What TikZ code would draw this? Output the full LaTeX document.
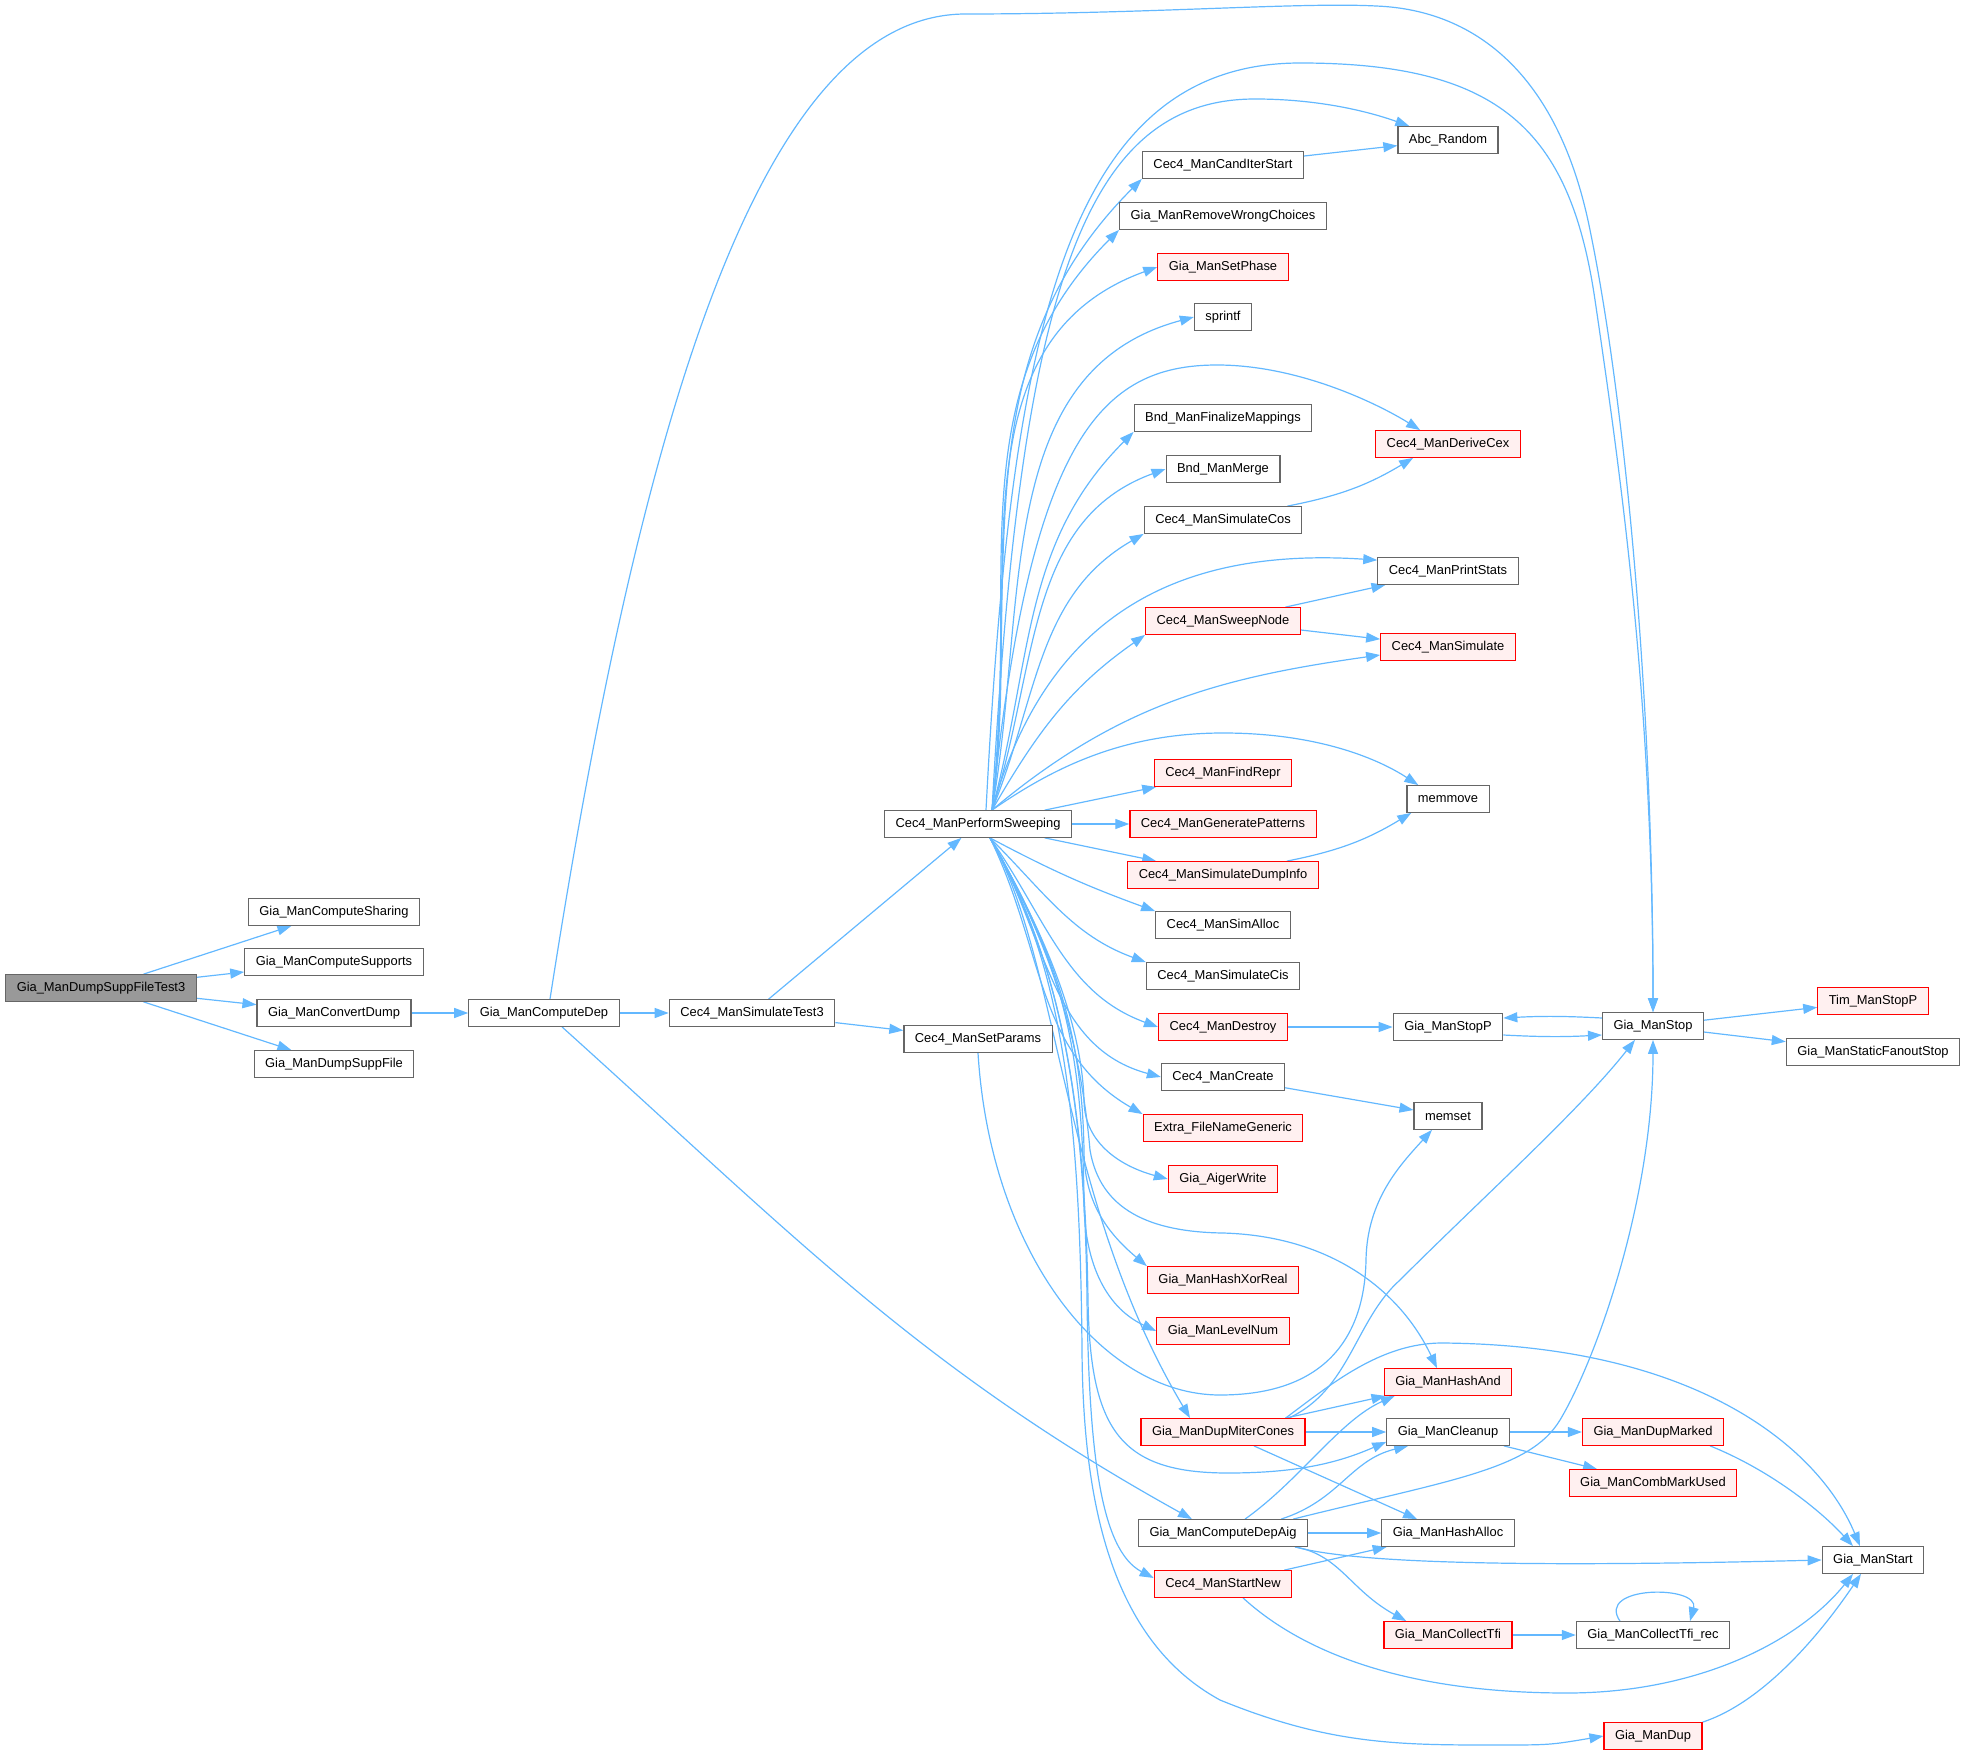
\documentclass[tikz,border=0pt]{standalone}
\usepackage{fontspec}
\setmainfont{Liberation Sans}
\usepackage{tikz}
\usetikzlibrary{arrows.meta, calc}
\pgfdeclarelayer{background}
\pgfsetlayers{background,main}

\begin{document}
\begin{tikzpicture}[x=0.5pt, y=0.5pt, >={Triangle[length=7pt, width=5pt]},
    every node/.style={font=\fontsize{6.45}{7.7}\selectfont, inner xsep=5.5pt, inner ysep=0pt,
      minimum height=13.3pt, line width=0.6pt},
    fn/.style={draw=nodegray, fill=white},
    fnred/.style={draw=red, fill=redbg},
    fnroot/.style={draw=nodegray, fill=rootgray},
    call/.style={->, draw=callblue, line width=0.6pt}]
      \definecolor{callblue}{HTML}{63B8FF} \definecolor{nodegray}{HTML}{666666}
      \definecolor{redbg}{HTML}{FFF0F0} \definecolor{rootgray}{HTML}{999999}
      \useasboundingbox (0,0) rectangle (1966,-1755);

      % caller chain on the left
      \node[fnroot] (root) at (101,-988) {Gia\_ManDumpSuppFileTest3};
      \foreach \n/\y/\t in {sharing/912/Gia\_ManComputeSharing, supports/962/Gia\_ManComputeSupports,
          convert/1013/Gia\_ManConvertDump, dumpFile/1064/Gia\_ManDumpSuppFile}
        \node[fn] (\n) at (334,-\y) {\t};
      \node[fn] (compDep) at (544,-1013) {Gia\_ManComputeDep};
      \node[fn] (simTest) at (752,-1013) {Cec4\_ManSimulateTest3};
      \node[fn] (setParams) at (978,-1039) {Cec4\_ManSetParams};
      \node[fn] (ps) at (978,-824) {Cec4\_ManPerformSweeping};

      % callees of the sweeper
      \foreach \n/\y/\s/\t in {cand/165/fn/Cec4\_ManCandIterStart, removeWC/216/fn/Gia\_ManRemoveWrongChoices,
          setPhase/267/fnred/Gia\_ManSetPhase, sprintf/317/fn/sprintf,
          finalize/418/fn/Bnd\_ManFinalizeMappings, merge/469/fn/Bnd\_ManMerge,
          simCos/520/fn/Cec4\_ManSimulateCos, sweepNode/621/fnred/Cec4\_ManSweepNode,
          findRepr/773/fnred/Cec4\_ManFindRepr, genPat/824/fnred/Cec4\_ManGeneratePatterns,
          dumpInfo/875/fnred/Cec4\_ManSimulateDumpInfo, simAlloc/925/fn/Cec4\_ManSimAlloc,
          simCis/976/fn/Cec4\_ManSimulateCis, destroy/1027/fnred/Cec4\_ManDestroy,
          create/1077/fn/Cec4\_ManCreate, extra/1128/fnred/Extra\_FileNameGeneric,
          aiger/1179/fnred/Gia\_AigerWrite, hashXor/1280/fnred/Gia\_ManHashXorReal,
          levelNum/1331/fnred/Gia\_ManLevelNum, dupMiter/1432/fnred/Gia\_ManDupMiterCones,
          depAig/1533/fn/Gia\_ManComputeDepAig, startNew/1584/fnred/Cec4\_ManStartNew}
        \node[\s] (\n) at (1223,-\y) {\t};
      \foreach \n/\y/\s/\t in {abc/140/fn/Abc\_Random, cex/444/fnred/Cec4\_ManDeriveCex,
          stats/571/fn/Cec4\_ManPrintStats, simulate/647/fnred/Cec4\_ManSimulate,
          memmove/799/fn/memmove, stopP/1027/fn/Gia\_ManStopP, memset/1116/fn/memset,
          hashAnd/1382/fnred/Gia\_ManHashAnd, cleanup/1432/fn/Gia\_ManCleanup,
          hashAlloc/1533/fn/Gia\_ManHashAlloc, tfi/1635/fnred/Gia\_ManCollectTfi}
        \node[\s] (\n) at (1448,-\y) {\t};
      \foreach \n/\y/\s/\t in {stop/1026/fn/Gia\_ManStop, dupMarked/1432/fnred/Gia\_ManDupMarked,
          combMark/1483/fnred/Gia\_ManCombMarkUsed, tfiRec/1635/fn/Gia\_ManCollectTfi\_rec,
          dup/1736/fnred/Gia\_ManDup}
        \node[\s] (\n) at (1653,-\y) {\t};
      \node[fnred] (timStopP) at (1873,-1001) {Tim\_ManStopP};
      \node[fn] (fanout) at (1873,-1052) {Gia\_ManStaticFanoutStop};
      \node[fn] (start) at (1873,-1560) {Gia\_ManStart};

      \begin{pgfonlayer}{background}
      % straight calls
      \foreach \a/\b in {root/sharing, root/supports, root/convert, root/dumpFile, convert/compDep,
          compDep/simTest, simTest/ps, simTest/setParams, ps/findRepr, ps/genPat, ps/dumpInfo,
          cand/abc, sweepNode/stats, sweepNode/simulate, destroy/stopP, create/memset,
          stop/timStopP, stop/fanout, dupMiter/hashAnd, dupMiter/cleanup, dupMiter/hashAlloc,
          depAig/hashAlloc, startNew/hashAlloc, cleanup/dupMarked, cleanup/combMark, tfi/tfiRec}
        \draw[call] (\a) -- (\b);

      % fan out of the sweeper
      \coordinate (pstop) at ($(ps.north)+(14,0)$);
      \coordinate (psbot) at ($(ps.south)+(12,0)$);
      \foreach \t/\o/\i/\p in {cand/84/225/south west, removeWC/83/225/south west, setPhase/82/200/west,
          sprintf/80/195/west, finalize/75/225/south west, merge/72/200/west,
          simCos/68/210/south west, sweepNode/60/215/south west}
        \draw[call] (pstop) to[out=\o, in=\i] (\t.\p);
      \foreach \t/\o/\i/\p in {simAlloc/-28/160/north west, simCis/-45/160/north west,
          destroy/-55/160/west, create/-60/165/west, extra/-64/150/north west}
        \draw[call] (psbot) to[out=\o, in=\i] (\t.\p);
      \foreach \t/\y/\i/\p in {aiger/1100/165/west, hashXor/1150/140/north west, levelNum/1200/155/west}
        \draw[call] (psbot) .. controls (1060,-960) and (1082,-1040) .. (1084,-\y) to[out=-90, in=\i] (\t.\p);
      \draw[call] (psbot) .. controls (1060,-960) and (1060,-1200) .. ($(dupMiter.north)+(-33,0)$);
      \draw[call] (psbot) .. controls (1060,-960) and (1085,-1100) .. (1087,-1300)
        .. controls (1089,-1450) and (1100,-1550) .. ($(startNew.west)+(0,6)$);
      \draw[call] (psbot) .. controls (1060,-960) and (1082,-1060) .. (1090,-1150)
        .. controls (1100,-1210) and (1150,-1232) .. (1223,-1233)
        .. controls (1330,-1236) and (1400,-1290) .. ($(hashAnd.north)+(-11,0)$);
      \draw[call] (psbot) .. controls (1060,-960) and (1085,-1100) .. (1088,-1300)
        .. controls (1090,-1430) and (1120,-1473) .. (1228,-1473)
        .. controls (1300,-1473) and (1340,-1462) .. ($(cleanup.south west)+(0,4)$);
      \draw[call] (psbot) .. controls (1060,-960) and (1080,-1100) .. (1082,-1350)
        .. controls (1083,-1500) and (1110,-1640) .. (1220,-1700)
        .. controls (1330,-1745) and (1400,-1745) .. (1496,-1745) .. controls (1550,-1745) .. (dup.west);
      \draw[call] (pstop) .. controls (1020,-300) and (1080,-99) .. (1255,-99)
        .. controls (1320,-99) and (1370,-112) .. ($(abc.north west)+(12,0)$);
      \draw[call] (pstop) .. controls (1030,-440) and (1100,-365) .. (1217,-365)
        .. controls (1300,-365) and (1380,-405) .. ($(cex.north west)+(45,0)$);
      \draw[call] (pstop) .. controls (1040,-640) and (1150,-545) .. ($(stats.north west)+(0,-3)$);
      \draw[call] (pstop) to[out=40, in=188] ($(simulate.west)+(0,-8)$);
      \draw[call] (pstop) .. controls (1050,-770) and (1120,-733) .. (1223,-733)
        .. controls (1320,-733) and (1380,-760) .. ($(memmove.north west)+(12,0)$);

      % long calls to Gia_ManStop
      \draw[call] ($(compDep.north)+(6,0)$) .. controls (640,-420) and (760,-15) .. (965,-14)
        .. controls (1150,-14) and (1300,-2) .. (1376,-6) .. controls (1480,-10) and (1560,-80) .. (1590,-230)
        .. controls (1625,-400) and (1653,-700) .. (stop.north);
      \draw[call] ($(ps.north)+(8,0)$) .. controls (1010,-350) and (1060,-63) .. (1300,-63)
        .. controls (1500,-63) and (1570,-130) .. (1595,-300) .. controls (1620,-470) and (1653,-700) .. (stop.north);
      \draw[call] ($(stop.west)+(0,8)$) to[bend right=3] ($(stopP.east)+(0,9)$);
      \draw[call] ($(stopP.east)+(0,-8)$) to[bend right=3] ($(stop.west)+(0,-9)$);

      % remaining bent calls
      \draw[call] (setParams.south) .. controls (990,-1250) and (1100,-1395) .. (1220,-1395)
        .. controls (1340,-1395) and (1365,-1320) .. (1366,-1260)
        .. controls (1367,-1200) and (1400,-1165) .. ($(memset.south)+(-16,0)$);
      \draw[call] ($(simCos.north east)+(-15,0)$) to[bend right=10] ($(cex.south west)+(38,0)$);
      \draw[call] ($(dumpInfo.north east)+(-32,0)$) to[bend right=10] ($(memmove.south west)+(5,0)$);
      \draw[call] ($(compDep.south)+(18,0)$) to[out=-42, in=151] ($(depAig.north)+(-31,0)$);
      \draw[call] ($(dupMiter.north east)+(-20,0)$) .. controls (1330,-1385) and (1380,-1343) .. (1442,-1343)
        .. controls (1700,-1345) and (1820,-1450) .. ($(start.north)+(-13,0)$);
      \draw[call] ($(dupMiter.north east)+(-17,0)$) .. controls (1350,-1390) and (1355,-1320) .. (1400,-1280)
        .. controls (1480,-1200) and (1580,-1110) .. ($(stop.south west)+(33,0)$);
      \draw[call] ($(depAig.north)+(22,0)$) .. controls (1300,-1480) and (1340,-1420) .. ($(hashAnd.south west)+(11,0)$);
      \draw[call] ($(depAig.north east)+(-27,0)$) .. controls (1340,-1500) and (1350,-1460) .. ($(cleanup.south west)+(22,0)$);
      \draw[call] ($(depAig.north east)+(-15,0)$) .. controls (1450,-1480) and (1530,-1470) .. (1560,-1420)
        .. controls (1596,-1360) and (1653,-1200) .. (stop.south);
      \draw[call] ($(depAig.south east)+(-13,0)$) .. controls (1350,-1562) and (1500,-1568) .. (start.west);
      \draw[call] ($(depAig.south east)+(-13,0)$) .. controls (1340,-1555) and (1350,-1590) .. ($(tfi.north west)+(23,0)$);
      \draw[call] ($(startNew.south)+(20,0)$) .. controls (1300,-1650) and (1400,-1693) .. (1567,-1693)
        .. controls (1700,-1693) and (1800,-1640) .. ($(start.south)+(-20,0)$);
      \draw[call] ($(dupMarked.south east)+(-14,0)$) .. controls (1770,-1470) and (1820,-1510) .. ($(start.north)+(-20,0)$);
      \draw[call] (dup.north east) .. controls (1770,-1700) and (1830,-1620) .. ($(start.south)+(-12,0)$);
      \draw[call] ($(tfiRec.north)+(-33,0)$) .. controls (1595,-1585) and (1700,-1585) .. ($(tfiRec.north)+(37,0)$);
      \end{pgfonlayer}
    \end{tikzpicture}
\end{document}
